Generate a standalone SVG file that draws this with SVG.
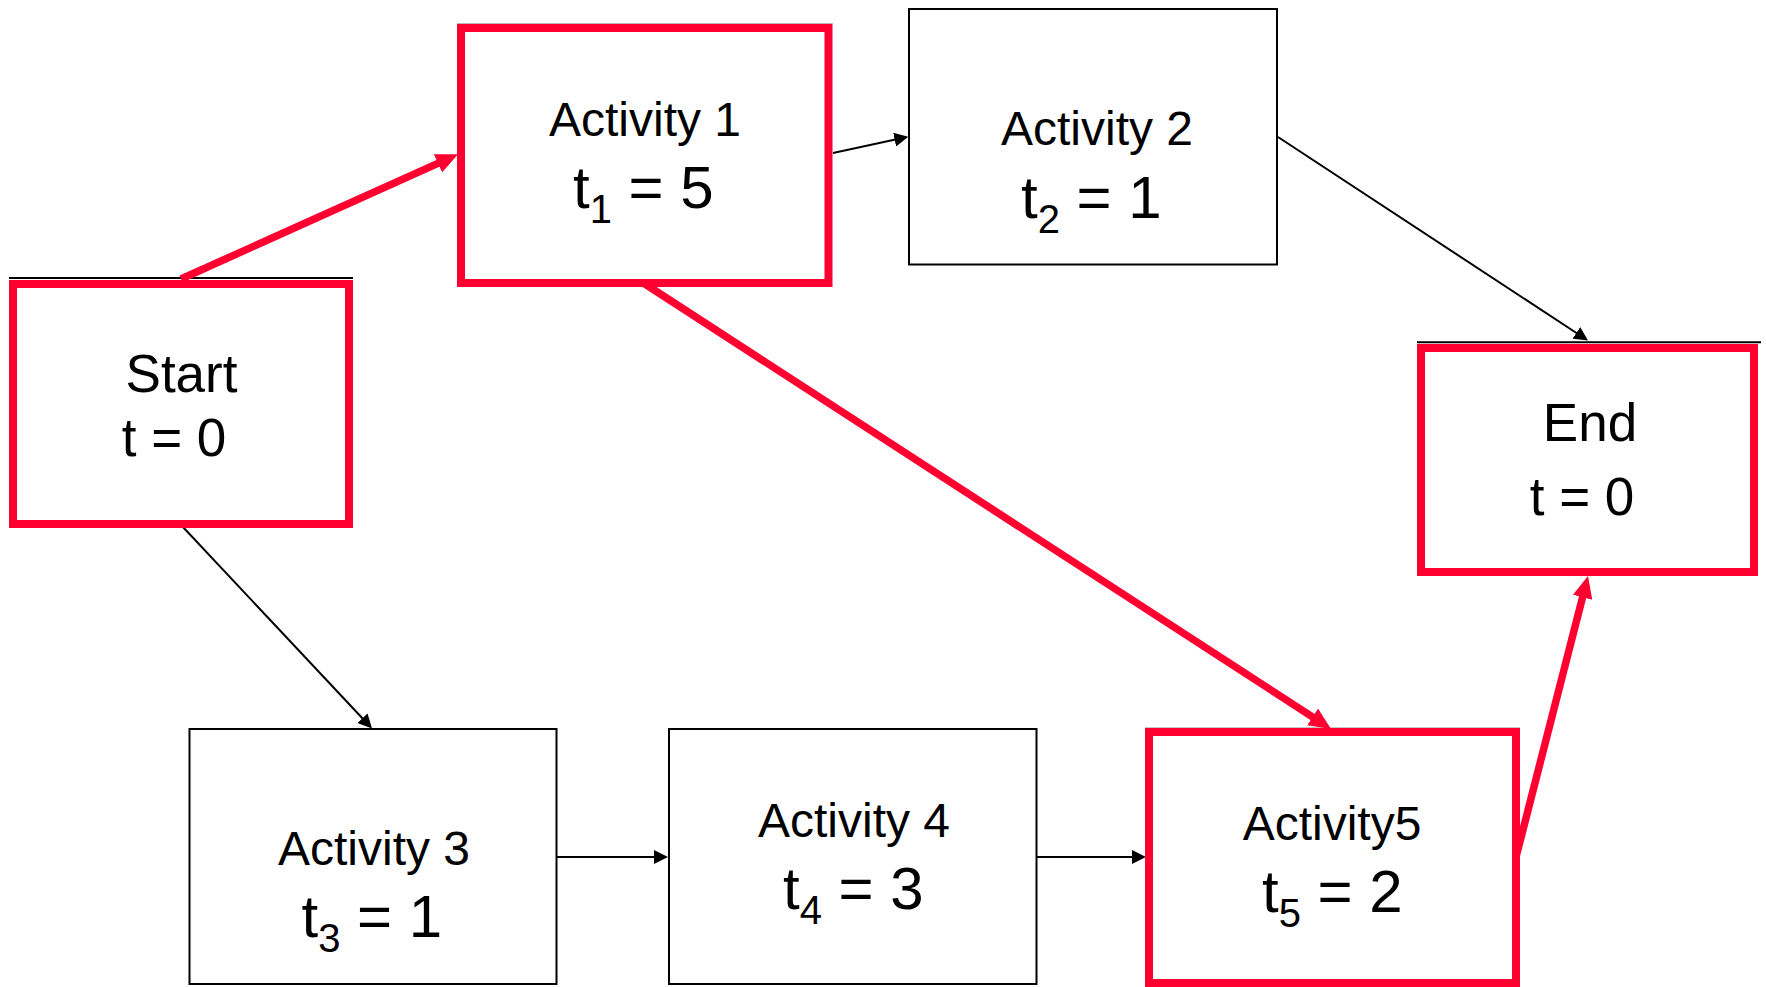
<svg xmlns="http://www.w3.org/2000/svg" width="1766" height="987" viewBox="0 0 1766 987">
<style>
  .box { fill: #ffffff; stroke: #000000; stroke-width: 2; }
  .crit { fill: #ffffff; stroke: #FF0030; stroke-width: 8; }
  .edge-top { stroke: #000000; stroke-width: 2; }
  .ghost { stroke: #b8b8b8; stroke-width: 1; }
  .lbl { font-family: "Liberation Sans", Arial, sans-serif; font-size: 48px; fill: #000000; }
  .big { font-family: "Liberation Sans", Arial, sans-serif; font-size: 60px; fill: #000000; }
  .se { font-family: "Liberation Sans", Arial, sans-serif; font-size: 53px; fill: #000000; }
  .sub { font-size: 40px; }
  .conn { fill: none; stroke: #000000; stroke-width: 2; }
  .conn-crit { fill: none; stroke: #FF0030; stroke-width: 7.5; }
</style>
<defs>
  <marker id="ah" viewBox="0 0 14 14" markerWidth="14" markerHeight="14" refX="2" refY="7" orient="auto" markerUnits="userSpaceOnUse">
    <path d="M0,0 L14,7 L0,14 z" fill="#000000"/>
  </marker>
  <marker id="ahr" viewBox="0 0 22 20" markerWidth="22" markerHeight="20" refX="3" refY="10" orient="auto" markerUnits="userSpaceOnUse">
    <path d="M0,0 L22,10 L0,20 z" fill="#FF0030"/>
  </marker>
</defs>
<rect x="0" y="0" width="1766" height="987" fill="#ffffff"/>

<g id="connectors">
  <line class="conn" x1="182" y1="526" x2="363.8" y2="719.7" marker-end="url(#ah)"/>
  <line class="conn" x1="833" y1="153" x2="896.6" y2="139.2" marker-end="url(#ah)"/>
  <line class="conn" x1="1278" y1="137" x2="1578" y2="334" marker-end="url(#ah)"/>
  <line class="conn" x1="557" y1="857" x2="656" y2="857" marker-end="url(#ah)"/>
  <line class="conn" x1="1037" y1="857" x2="1134" y2="857" marker-end="url(#ah)"/>
</g>

<g id="start">
  <line class="edge-top" x1="9" y1="278" x2="353" y2="278"/>
  <rect class="crit" x="13" y="284" width="336" height="240"/>
  <text class="se" x="181.5" y="391.5" text-anchor="middle">Start</text>
  <text class="se" x="174" y="456" text-anchor="middle">t = 0</text>
</g>

<g id="activity1">
  <line class="ghost" x1="457" y1="23.5" x2="833" y2="23.5"/>
  <rect class="crit" x="461" y="28" width="367.5" height="255"/>
  <text class="lbl" x="645" y="136" text-anchor="middle">Activity 1</text>
  <text class="big" x="573" y="208">t<tspan class="sub" dy="15">1</tspan><tspan dy="-15"> = 5</tspan></text>
</g>

<g id="activity2">
  <rect class="box" x="909" y="9" width="368" height="255.5"/>
  <text class="lbl" x="1097" y="145" text-anchor="middle">Activity 2</text>
  <text class="big" x="1021" y="218">t<tspan class="sub" dy="15">2</tspan><tspan dy="-15"> = 1</tspan></text>
</g>

<g id="end">
  <line class="edge-top" x1="1417" y1="342.3" x2="1761" y2="342.3"/>
  <rect class="crit" x="1421" y="348" width="333" height="224"/>
  <text class="se" x="1590" y="441.3" text-anchor="middle" font-size="52">End</text>
  <text class="se" x="1582" y="515" text-anchor="middle" font-size="52">t = 0</text>
</g>

<g id="activity3">
  <rect class="box" x="189.5" y="729" width="367" height="255"/>
  <text class="lbl" x="374" y="865" text-anchor="middle">Activity 3</text>
  <text class="big" x="301.5" y="937">t<tspan class="sub" dy="15">3</tspan><tspan dy="-15"> = 1</tspan></text>
</g>

<g id="activity4">
  <rect class="box" x="669" y="729" width="367.5" height="255"/>
  <text class="lbl" x="854" y="837" text-anchor="middle">Activity 4</text>
  <text class="big" x="783" y="909">t<tspan class="sub" dy="15">4</tspan><tspan dy="-15"> = 3</tspan></text>
</g>

<g id="activity5">
  <line class="ghost" x1="1145" y1="727.7" x2="1520" y2="727.7"/>
  <rect class="crit" x="1149" y="732" width="367" height="251"/>
  <text class="lbl" x="1332" y="840" text-anchor="middle">Activity5</text>
  <text class="big" x="1262" y="912">t<tspan class="sub" dy="15">5</tspan><tspan dy="-15"> = 2</tspan></text>
</g>

<g id="critical-connectors">
  <line class="conn-crit" x1="181" y1="279" x2="440.7" y2="162.1" marker-end="url(#ahr)"/>
  <line class="conn-crit" x1="645" y1="284" x2="1315.1" y2="718.6" marker-end="url(#ahr)"/>
  <line class="conn-crit" x1="1516" y1="857" x2="1583.3" y2="594.4" marker-end="url(#ahr)"/>
</g>
</svg>
